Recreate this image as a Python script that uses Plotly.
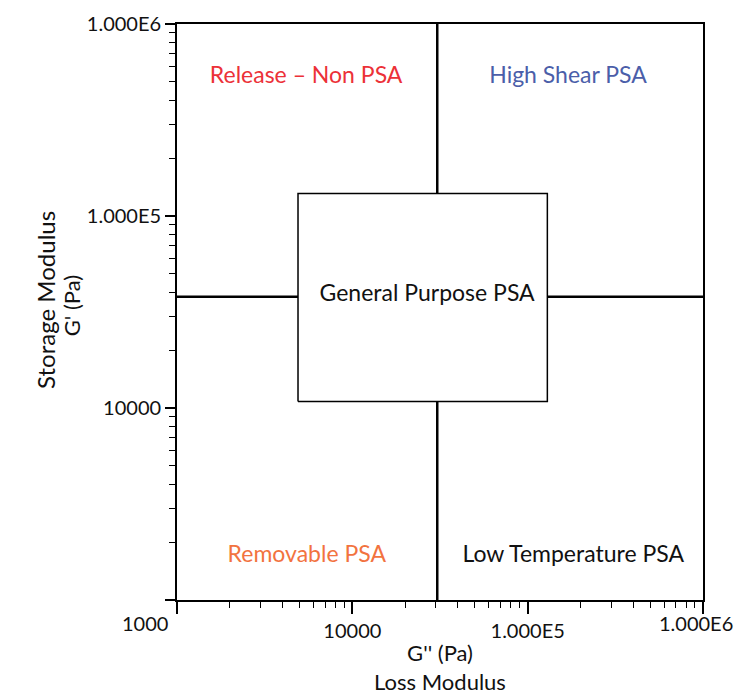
import plotly.graph_objects as go

# Quadrant dividers (G'' on x, G' on y, Pa)
X_RANGE = [1e3, 1e6]
Y_RANGE = [1e3, 1e6]
X_DIVIDER = 3.05e4
Y_DIVIDER = 3.8e4

# General purpose window
BOX_X = [4.9e3, 1.295e5, 1.295e5, 4.9e3, 4.9e3]
BOX_Y = [1.08e4, 1.08e4, 1.31e5, 1.31e5, 1.08e4]

# Region labels
LABELS = ["Release \u2013 Non PSA", "High Shear PSA", "General Purpose PSA",
          "Removable PSA", "Low Temperature PSA"]
LABEL_X = [5.45e3, 1.70e5, 2.67e4, 5.5e3, 1.82e5]
LABEL_Y = [5.3e5, 5.3e5, 3.85e4, 1.68e3, 1.68e3]
LABEL_COLORS = ["#ec3138", "#4b5ea9", "#111111", "#f2733f", "#111111"]

X_TICKS = [1e3, 1e4, 1e5, 1e6]
X_TICKTEXT = ["", "10000", "1.000E5", ""]
Y_TICKS = [1e3, 1e4, 1e5, 1e6]
Y_TICKTEXT = ["", "10000", "1.000E5", "1.000E6"]

FONT = "Lato"
INK = "#111111"

fig = go.Figure()

# divider lines
fig.add_trace(go.Scatter(x=[X_DIVIDER, X_DIVIDER], y=Y_RANGE, mode="lines",
                         line=dict(color="black", width=2.5), showlegend=False))
fig.add_trace(go.Scatter(x=X_RANGE, y=[Y_DIVIDER, Y_DIVIDER], mode="lines",
                         line=dict(color="black", width=2.5), showlegend=False))

# central box, white filled so it covers the dividers
fig.add_trace(go.Scatter(x=BOX_X, y=BOX_Y, mode="lines", fill="toself",
                         fillcolor="white", line=dict(color="black", width=1.5),
                         showlegend=False))

fig.add_trace(go.Scatter(x=LABEL_X, y=LABEL_Y, mode="text", text=LABELS,
                         textfont=dict(family=FONT, size=23, color=LABEL_COLORS),
                         showlegend=False))

axis_common = dict(
    type="log", showgrid=False, zeroline=False, automargin=False,
    showline=True, linecolor="black", mirror=True,
    ticks="outside", tickcolor="black", tickwidth=1.5,
    minor=dict(ticks="outside", ticklen=6, tickcolor="black", tickwidth=1,
               dtick="D1", showgrid=False),
    tickfont=dict(family=FONT, size=20, color=INK),
)

fig.update_xaxes(range=[3, 6], tickvals=X_TICKS, ticktext=X_TICKTEXT,
                 ticklen=12, linewidth=2,
                 title_text="G'' (Pa)<br>Loss Modulus", title_standoff=6,
                 title_font=dict(family=FONT, size=22, color=INK),
                 **axis_common)
fig.update_yaxes(range=[3, 6], tickvals=Y_TICKS, ticktext=Y_TICKTEXT,
                 ticklen=10, linewidth=1.8, **axis_common)

# y title: two lines set tightly
for txt, xs, yp, fs in [("Storage Modulus", -131, 0.521, 24), ("G' (Pa)", -106, 0.510, 22)]:
    fig.add_annotation(x=0, y=yp, xref="paper", yref="paper", text=txt,
                       textangle=-90, showarrow=False, xanchor="center",
                       yanchor="middle", xshift=xs,
                       font=dict(family=FONT, size=fs, color=INK))

# end labels of the x axis sit off their ticks (left of origin, flush right at the end)
fig.add_annotation(x=3, y=0, xref="x", yref="paper", text="1000",
                   showarrow=False, xanchor="center", yanchor="top",
                   xshift=-32, yshift=-9,
                   font=dict(family=FONT, size=20, color=INK))
fig.add_annotation(x=6, y=0, xref="x", yref="paper", text="1.000E6",
                   showarrow=False, xanchor="right", yanchor="top",
                   xshift=32, yshift=-9,
                   font=dict(family=FONT, size=20, color=INK))

# page body adds an 8px offset, so size the figure to land the plot at 177..703 / 24..600
fig.update_layout(
    width=737, height=687,
    margin=dict(l=169, r=42, t=16, b=95),
    paper_bgcolor="white", plot_bgcolor="white",
    showlegend=False,
)

fig.write_html("out.html")
